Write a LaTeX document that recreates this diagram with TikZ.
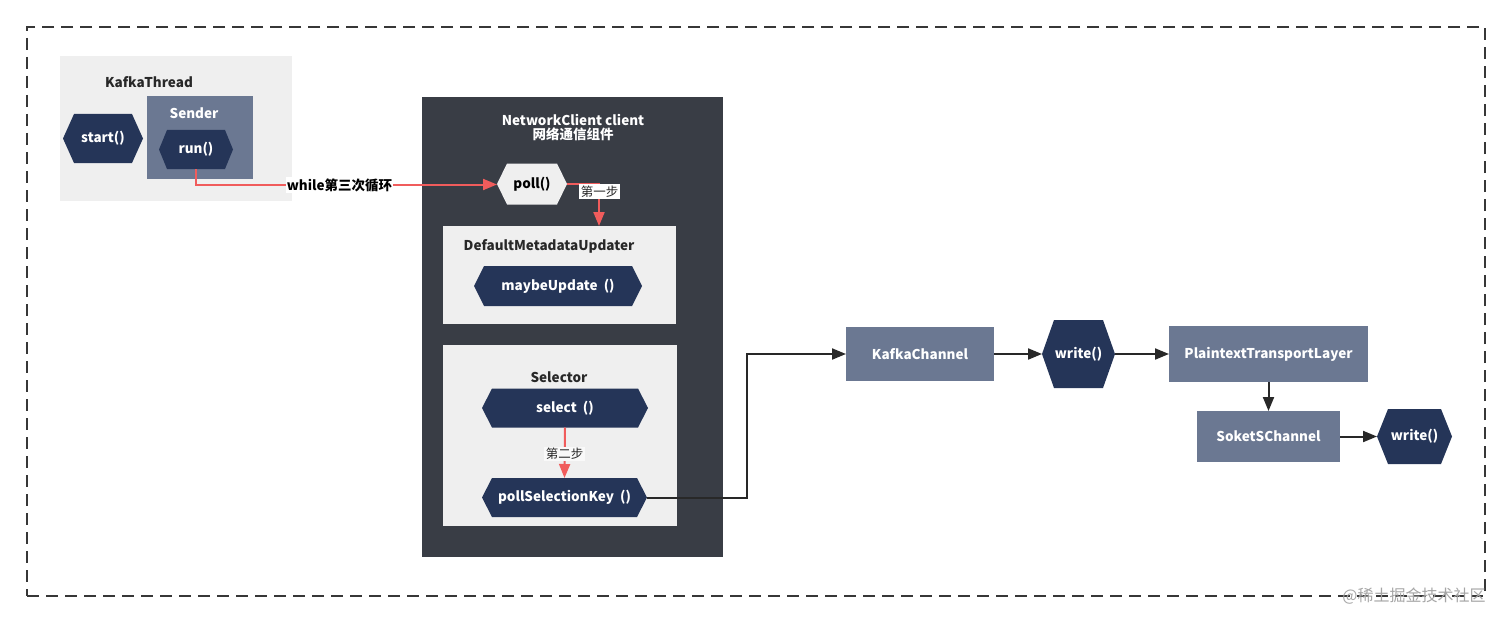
\documentclass[tikz,border=0pt]{standalone}
\usepackage{fontspec}
\setmainfont{Noto Sans CJK SC}
\usetikzlibrary{arrows.meta}
\definecolor{lightbox}{RGB}{239,239,239}
\definecolor{slate}{RGB}{107,120,146}
\definecolor{navy}{RGB}{37,53,88}
\definecolor{panel}{RGB}{57,61,69}
\definecolor{redline}{RGB}{240,92,92}
\definecolor{darktext}{RGB}{40,40,40}
\definecolor{framec}{RGB}{55,55,55}
\newcommand\hexa[9]{%
  \fill[#7] ({#2-#4/2},#3) -- ({#2-#4/2+#6},{#3-#5/2}) -- ({#2+#4/2-#6},{#3-#5/2})
    -- ({#2+#4/2},#3) -- ({#2+#4/2-#6},{#3+#5/2}) -- ({#2-#4/2+#6},{#3+#5/2}) -- cycle;
  \node[hexlbl, text=#8, minimum width=#4pt, minimum height=#5pt] (#1) at (#2,#3) {\raisebox{-1pt}{#9}};
}
\begin{document}
\begin{tikzpicture}[x=1pt,y=-1pt,
  box/.style={draw=none, inner sep=0pt, outer sep=0pt},
  hexlbl/.style={inner sep=0pt, outer sep=0pt, font=\fontsize{13.5}{15}\selectfont\bfseries},
  lbl/.style={inner sep=0pt, font=\fontsize{13.5}{15}\selectfont\bfseries},
  step lbl/.style={inner sep=1.5pt, font=\fontsize{12.5}{14}\selectfont},
  redarrow/.style={draw=redline, line width=2pt, -{Triangle[length=14pt,width=11pt]}},
  blackarrow/.style={draw=darktext, line width=2pt, -{Triangle[length=14pt,width=11pt]}},
]
\useasboundingbox (0,0) rectangle (1512,623);
\fill[white] (0,0) rectangle (1512,623);

% outer dashed frame
\node[box, draw=framec, line width=1.6pt, dash pattern=on 12pt off 7pt,
  minimum width=1458pt, minimum height=569pt] (frame) at (756,311.5) {};

% KafkaThread
\node[box, fill=lightbox, minimum width=232pt, minimum height=145pt] (kt) at (176,128.5) {};
\node[lbl, text=darktext] (ktl) at (149,82) {KafkaThread};
\node[box, fill=slate, minimum width=106pt, minimum height=83pt] (sender) at (200,137.5) {};
\node[lbl, text=white] (senderl) at (194,113) {Sender};
\hexa{start}{103}{138.5}{80}{49}{11}{navy}{white}{start()}
\hexa{run}{196}{149.5}{74}{39}{8}{navy}{white}{run()}

% NetworkClient
\node[box, fill=panel, minimum width=301pt, minimum height=460pt] (nc) at (572.5,327) {};
\node[lbl, text=white, align=center] (ncl) at (573,128) {NetworkClient client\\[-1pt]网络通信组件};
\hexa{poll}{532}{184}{70}{41}{10}{lightbox}{black}{poll()}

\node[box, fill=lightbox, minimum width=233pt, minimum height=98pt] (dmu) at (559.5,275) {};
\node[lbl, text=darktext] (dmul) at (549,246) {DefaultMetadataUpdater};
\hexa{maybe}{558}{286}{168}{40}{10}{navy}{white}{maybeUpdate\ \ ()}

\node[box, fill=lightbox, minimum width=234pt, minimum height=181pt] (sel) at (560,435.5) {};
\node[lbl, text=darktext] (sell) at (559,377) {Selector};
\hexa{select}{565}{408}{166}{39}{10}{navy}{white}{select\ \ ()}
\hexa{psk}{564.5}{497.5}{165}{39}{10}{navy}{white}{pollSelectionKey\ \ ()}

% right chain
\node[box, fill=slate, text=white, font=\fontsize{13.5}{15}\selectfont\bfseries,
  minimum width=148pt, minimum height=54pt] (kc) at (920,354) {\raisebox{-1pt}{KafkaChannel}};
\hexa{write1}{1078.5}{354}{73}{68}{12}{navy}{white}{write()}
\node[box, fill=slate, text=white, font=\fontsize{13.5}{15}\selectfont\bfseries,
  minimum width=199pt, minimum height=56pt] (ptl) at (1268.5,354) {\raisebox{-1pt}{PlaintextTransportLayer}};
\node[box, fill=slate, text=white, font=\fontsize{13.5}{15}\selectfont\bfseries,
  minimum width=143pt, minimum height=51pt] (ssc) at (1268.5,436.5) {\raisebox{-1pt}{SoketSChannel}};
\hexa{write2}{1414.5}{436.5}{75}{55}{11}{navy}{white}{write()}

% red connectors
\coordinate (runturn) at (196,184.5);
\draw[redarrow] (run.south) -- (runturn) -- (runturn -| poll.west);
\node[lbl, fill=white, inner sep=1pt, text=black] (whilel) at (339.5,185) {while第三次循环};

\coordinate (pollturn) at (599,184);
\draw[redarrow] (poll.east) -- (pollturn) -- (pollturn |- dmu.north);
\node[step lbl, fill=white, text=darktext] (step1) at (599.5,191.5) {第一步};

\draw[redarrow] (select.south) -- (psk.north);
\node[step lbl, fill=white!60!lightbox, text=darktext] (step2) at (564.5,454) {第二步};

% black connectors
\coordinate (bturn1) at (747,497.5);
\coordinate (bturn2) at (747,354);
\draw[blackarrow] (psk.east) -- (bturn1) -- (bturn2) -- (kc.west);
\draw[blackarrow] (kc.east) -- (write1.west);
\draw[blackarrow] (write1.east) -- (ptl.west);
\draw[blackarrow] (ptl.south) -- (ssc.north);
\draw[blackarrow] (ssc.east) -- (write2.west);

% watermark
\node[inner sep=0pt, text={rgb,255:red,165;green,165;blue,165}, font=\fontsize{16}{18}\selectfont] (wm) at (1414,596) {@稀土掘金技术社区};
\end{tikzpicture}
\end{document}
